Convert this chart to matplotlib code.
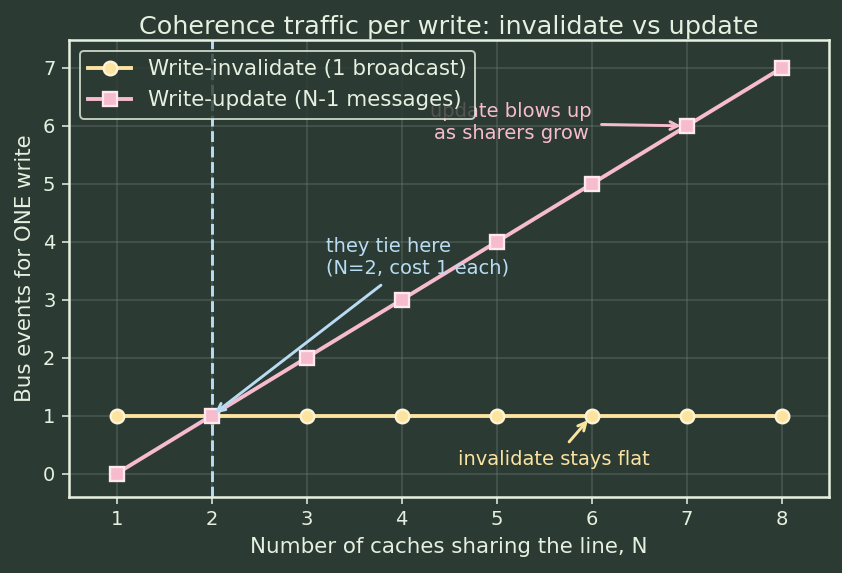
import matplotlib
matplotlib.use("Agg")
import matplotlib.pyplot as plt
import numpy as np

n_caches = [1, 2, 3, 4, 5, 6, 7, 8]
invalidate = [1, 1, 1, 1, 1, 1, 1, 1]
update = [0, 1, 2, 3, 4, 5, 6, 7]

BG = "#2b3a33"
FG = "#e6f0e0"
YEL = "#fbe3a0"
PINK = "#f6bccd"
BLUE = "#b9dcf2"

plt.rcParams["font.family"] = ["DejaVu Sans"]
fig = plt.figure(figsize=(842/140, 573/140), dpi=140, facecolor=BG)
ax = fig.add_axes([0.082, 0.133, 0.903, 0.797])
ax.set_facecolor(BG)

ax.grid(True, color="#6a7a70", alpha=0.45, linewidth=0.8)
ax.set_axisbelow(True)

ax.axvline(2, color=BLUE, linestyle="--", linewidth=1.5, zorder=2)

ax.plot(n_caches, invalidate, color=YEL, linewidth=2, marker="o", markersize=7,
        markerfacecolor=YEL, markeredgecolor="#fff3d6", markeredgewidth=1.2,
        label="Write-invalidate (1 broadcast)", zorder=3)
ax.plot(n_caches, update, color=PINK, linewidth=2, marker="s", markersize=7,
        markerfacecolor=PINK, markeredgecolor="#ffe8ef", markeredgewidth=1.2,
        label="Write-update (N-1 messages)", zorder=3)

ax.annotate("they tie here\n(N=2, cost 1 each)", xy=(2, 1), xytext=(3.2, 3.38),
            color=BLUE, fontsize=10, ha="left", va="bottom",
            arrowprops=dict(arrowstyle="->", color=BLUE, lw=1.5, shrinkA=3, shrinkB=2))
ax.annotate("update blows up\nas sharers grow", xy=(7, 6), xytext=(5.15, 6.05),
            color=PINK, fontsize=10, ha="center", va="center",
            arrowprops=dict(arrowstyle="->", color=PINK, lw=1.5, shrinkA=3, shrinkB=3))
ax.annotate("invalidate stays flat", xy=(6, 1), xytext=(5.6, 0.24),
            color=YEL, fontsize=10, ha="center", va="center",
            arrowprops=dict(arrowstyle="->", color=YEL, lw=1.5, shrinkA=3, shrinkB=3))

ax.set_xlim(0.5, 8.5)
ax.set_ylim(-0.4, 7.48)
ax.set_xticks(n_caches)
ax.set_yticks(range(0, 8))

for s in ax.spines.values():
    s.set_color(FG)
    s.set_linewidth(1.3)
ax.tick_params(colors=FG, labelsize=10)

ax.set_title("Coherence traffic per write: invalidate vs update", color=FG, fontsize=13.1, pad=3)
ax.set_xlabel("Number of caches sharing the line, N", color=FG, fontsize=11)
ax.set_ylabel("Bus events for ONE write", color=FG, fontsize=11)

leg = ax.legend(loc="upper left", facecolor=BG, edgecolor=FG, fontsize=11, labelcolor=FG)

fig.savefig("out.png", dpi=140, facecolor=BG)
